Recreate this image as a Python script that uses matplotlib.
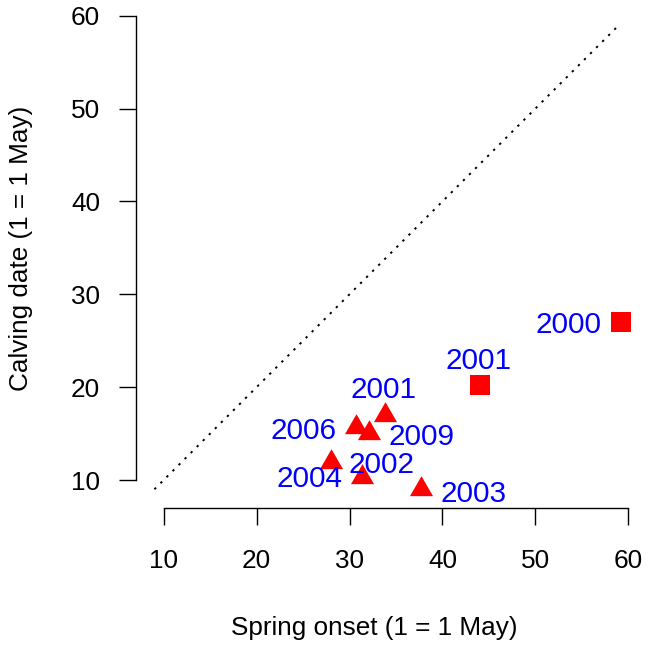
import matplotlib
matplotlib.use("Agg")
import matplotlib.pyplot as plt

plt.rcParams['font.family'] = ['Liberation Sans', 'DejaVu Sans']

# squares (pch 15)
sq_years = ["2000", "2001"]
sq_onset = [59.2, 44.0]
sq_calving = [27.05, 20.2]

# triangles (pch 17)
tri_years = ["2001", "2006", "2009", "2004", "2002", "2003"]
tri_onset = [33.8, 30.7, 32.1, 28.0, 31.3, 37.7]
tri_calving = [17.0, 15.7, 15.1, 11.9, 10.3, 9.0]

# 1:1 line
diag = [9, 59]

ticks = [10, 20, 30, 40, 50, 60]

# label offsets (pixels, label centre relative to the point)
sq_offsets = [(-52, 0), (-1, 27.5)]
tri_offsets = [(-1, 28), (-53, -1), (52, -1), (-21, -13.5), (20, 15.5), (52, -1.5)]

W, H = 650, 651
fig = plt.figure(figsize=(6.5, 6.51), dpi=100)
ppu_x = (628.3 - 163.7) / 50
ppu_y = (480.0 - 15.7) / 50
x0, x1 = 8, 62
y0, y1 = 8, 61.5
left = 163.7 - (10 - x0) * ppu_x
right = 628.3 + (x1 - 60) * ppu_x
bottom = 480.0 + (10 - y0) * ppu_y
top = 15.7 - (y1 - 60) * ppu_y
ax = fig.add_axes([left / W, 1 - bottom / H, (right - left) / W, (bottom - top) / H])
ax.set_xlim(x0, x1)
ax.set_ylim(y0, y1)

ax.plot(diag, diag, color='black', lw=1.4, linestyle=(0, (1.2, 3.2)), clip_on=False)

tri_marker = [(0, 1), (-0.866, -0.5), (0.866, -0.5)]
ax.plot(tri_onset, tri_calving, linestyle='none', marker=tri_marker, markersize=19.2,
        color='#ff0000', markeredgewidth=0, clip_on=False)
ax.plot(sq_onset, sq_calving, linestyle='none', marker='s', markersize=14.4,
        color='#ff0000', markeredgewidth=0, clip_on=False)

for x, y, lab, (dx, dy) in zip(sq_onset + tri_onset, sq_calving + tri_calving,
                               sq_years + tri_years, sq_offsets + tri_offsets):
    ax.annotate(lab, (x, y), xytext=(dx, dy - 11), textcoords='offset pixels',
                ha='center', va='baseline', color='#0000ff', fontsize=21.4)

for s in ['top', 'right']:
    ax.spines[s].set_visible(False)
ax.spines['bottom'].set_position(('outward', 6.8))
ax.spines['left'].set_position(('outward', 6.6))
ax.spines['bottom'].set_bounds(10, 60)
ax.spines['left'].set_bounds(10, 60)
for s in ['bottom', 'left']:
    ax.spines[s].set_linewidth(1.0)
ax.set_xticks(ticks)
ax.set_yticks(ticks)
ax.tick_params(length=12.2, width=1.0, labelsize=18.8, direction='out')
ax.tick_params(axis='x', pad=17.4)
ax.tick_params(axis='y', pad=13.6)

fig.text(374.5 / W, 1 - 635 / H, "Spring onset (1 = 1 May)", ha='center', va='baseline', fontsize=18.8)
fig.text(28 / W, 1 - 248 / H, "Calving date (1 = 1 May)", ha='center', va='baseline',
         rotation=90, rotation_mode='anchor', fontsize=18.8)

fig.savefig("out.png", dpi=100, facecolor='white')
